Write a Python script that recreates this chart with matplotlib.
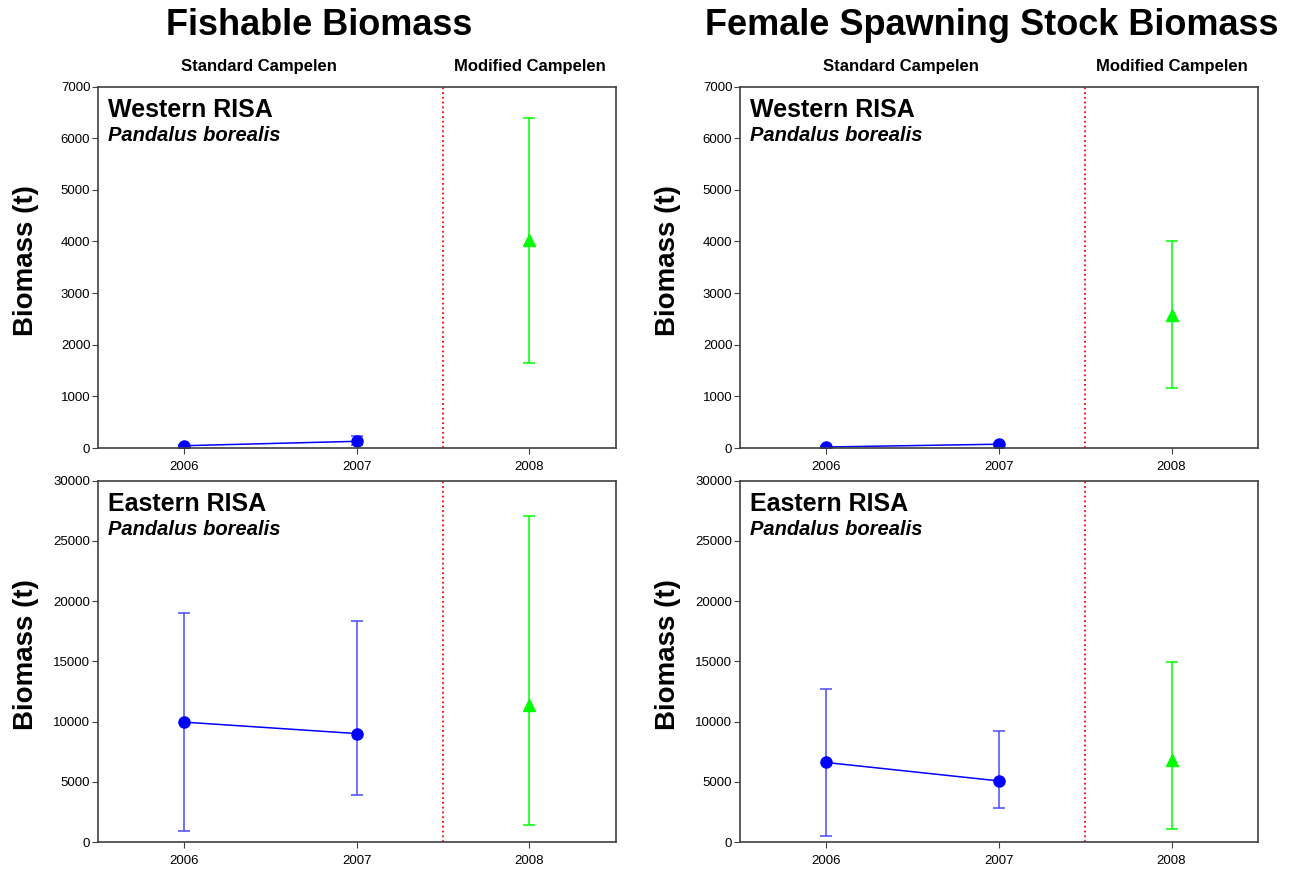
import matplotlib.pyplot as plt
from matplotlib.transforms import blended_transform_factory

plt.rcParams['font.family'] = ['Liberation Sans', 'DejaVu Sans']

# standard Campelen years (blue) and modified Campelen year (green)
years_std = [2006, 2007]
years_mod = [2008]

# Fishable biomass
fish_w_std = [45, 130]
fish_w_std_lo = [30, 50]
fish_w_std_hi = [60, 230]
fish_w_mod = [4030]
fish_w_mod_lo = [1650]
fish_w_mod_hi = [6390]

fish_e_std = [9950, 9000]
fish_e_std_lo = [900, 3870]
fish_e_std_hi = [19050, 18330]
fish_e_mod = [11350]
fish_e_mod_lo = [1450]
fish_e_mod_hi = [27050]

# Female spawning stock biomass
fssb_w_std = [20, 74]
fssb_w_std_lo = [10, 45]
fssb_w_std_hi = [35, 105]
fssb_w_mod = [2580]
fssb_w_mod_lo = [1170]
fssb_w_mod_hi = [4000]

fssb_e_std = [6600, 5070]
fssb_e_std_lo = [470, 2830]
fssb_e_std_hi = [12700, 9230]
fssb_e_mod = [6790]
fssb_e_mod_lo = [1050]
fssb_e_mod_hi = [14940]

panels = [
    # (col, row, region, ymax, ystep, std, lo, hi, mod, lo, hi)
    (0, 0, 'Western RISA', 7000, 1000, fish_w_std, fish_w_std_lo, fish_w_std_hi, fish_w_mod, fish_w_mod_lo, fish_w_mod_hi),
    (0, 1, 'Eastern RISA', 30000, 5000, fish_e_std, fish_e_std_lo, fish_e_std_hi, fish_e_mod, fish_e_mod_lo, fish_e_mod_hi),
    (1, 0, 'Western RISA', 7000, 1000, fssb_w_std, fssb_w_std_lo, fssb_w_std_hi, fssb_w_mod, fssb_w_mod_lo, fssb_w_mod_hi),
    (1, 1, 'Eastern RISA', 30000, 5000, fssb_e_std, fssb_e_std_lo, fssb_e_std_hi, fssb_e_mod, fssb_e_mod_lo, fssb_e_mod_hi),
]

fig = plt.figure(figsize=(13.01, 8.73), dpi=100)
lefts = [0.0753, 0.5688]
bottoms = [0.4868, 0.0355]

for col, row, region, ymax, ystep, s, slo, shi, m, mlo, mhi in panels:
    ax = fig.add_axes([lefts[col], bottoms[row], 0.398, 0.414])
    s_err = [[v - l for v, l in zip(s, slo)], [h - v for v, h in zip(s, shi)]]
    m_err = [[v - l for v, l in zip(m, mlo)], [h - v for v, h in zip(m, mhi)]]
    ax.errorbar(years_std, s, yerr=s_err, color='blue', ecolor='#4a4aff', marker='o',
                markersize=8, linewidth=1.1, elinewidth=1.1, capsize=4, capthick=1.1)
    ax.errorbar(years_mod, m, yerr=m_err, color='lime', marker='^', markersize=8,
                linestyle='none', elinewidth=1.1, capsize=4, capthick=1.1)
    ax.axvline(2007.5, color='red', linestyle=':', linewidth=1.3)
    ax.set_xlim(2005.5, 2008.5)
    ax.set_ylim(0, ymax)
    ax.set_xticks([2006, 2007, 2008])
    ax.set_yticks(range(0, ymax + 1, ystep))
    ax.tick_params(direction='out', length=4, labelsize=9.5, color='#404040')
    ax.tick_params(axis='y', pad=1.5)
    ax.tick_params(axis='x', pad=5)
    for sp in ax.spines.values():
        sp.set_color('#404040')
        sp.set_linewidth(1.2)
    ax.set_ylabel('Biomass (t)', fontsize=20, fontweight='bold')
    ax.yaxis.set_label_coords(-0.113, 0.52)
    ax.text(0.019, 0.917, region, transform=ax.transAxes, fontsize=18,
            fontweight='bold', va='baseline')
    ax.text(0.019, 0.850, 'Pandalus borealis', transform=ax.transAxes, fontsize=14.5,
            fontweight='bold', style='italic', va='baseline')
    if row == 0:
        tr = blended_transform_factory(ax.transData, ax.transAxes)
        ax.text(2006.43, 1.042, 'Standard Campelen', transform=tr, ha='center',
                va='baseline', fontsize=12, fontweight='bold')
        ax.text(2008.0, 1.042, 'Modified Campelen', transform=tr, ha='center',
                va='baseline', fontsize=12, fontweight='bold')

fig.text(0.245, 0.96, 'Fishable Biomass', ha='center', va='baseline',
         fontsize=26, fontweight='bold')
fig.text(0.762, 0.96, 'Female Spawning Stock Biomass', ha='center', va='baseline',
         fontsize=26, fontweight='bold')

fig.savefig('out.png', dpi=100)
